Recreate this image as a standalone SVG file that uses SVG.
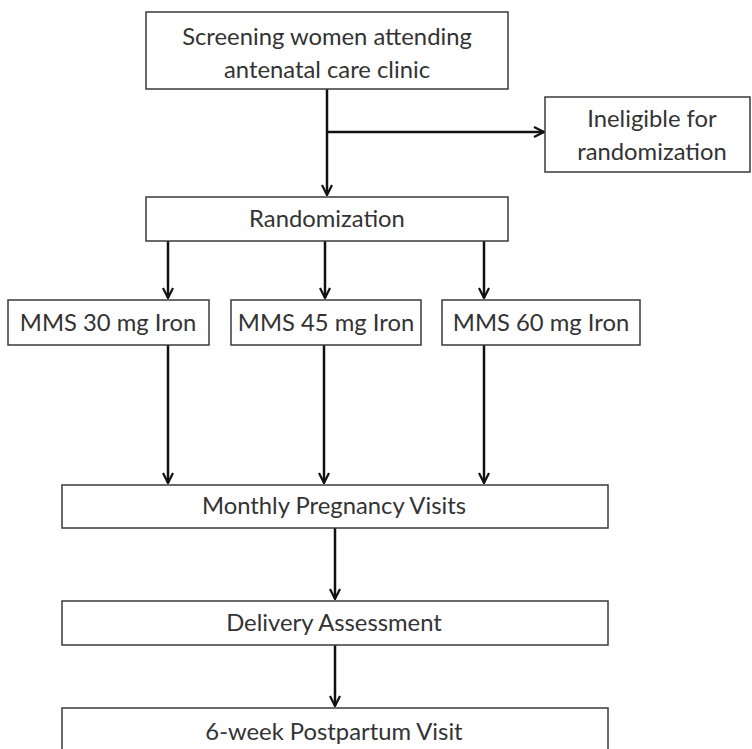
<svg xmlns="http://www.w3.org/2000/svg" width="752" height="749" viewBox="0 0 752 749">
<style>
.box{fill:#fff;stroke:#3a3a3a;stroke-width:1.5}
.t{font-family:Lato,"Liberation Sans",sans-serif;font-size:23.8px;fill:#333;text-anchor:middle}
.c{stroke:#111;stroke-width:2.5;fill:none}
</style>
<defs>
<marker id="ah" viewBox="0 0 12 12" refX="11" refY="6" markerWidth="12" markerHeight="12" markerUnits="userSpaceOnUse" orient="auto">
<path d="M1,1 L11,6 L1,11" fill="none" stroke="#111" stroke-width="2.2"/>
</marker>
</defs>
<rect width="752" height="749" fill="#fff"/>
<g id="connectors">
<line class="c" x1="327" y1="89" x2="327" y2="195" marker-end="url(#ah)"/>
<line class="c" x1="327" y1="132" x2="544" y2="132" marker-end="url(#ah)"/>
<line class="c" x1="168" y1="241" x2="168" y2="298" marker-end="url(#ah)"/>
<line class="c" x1="325" y1="241" x2="325" y2="298" marker-end="url(#ah)"/>
<line class="c" x1="484" y1="241" x2="484" y2="298" marker-end="url(#ah)"/>
<line class="c" x1="168" y1="345" x2="168" y2="483" marker-end="url(#ah)"/>
<line class="c" x1="324" y1="345" x2="324" y2="483" marker-end="url(#ah)"/>
<line class="c" x1="484" y1="345" x2="484" y2="483" marker-end="url(#ah)"/>
<line class="c" x1="335" y1="528" x2="335" y2="599" marker-end="url(#ah)"/>
<line class="c" x1="335" y1="645" x2="335" y2="706" marker-end="url(#ah)"/>
</g>
<g id="screening"><rect class="box" x="146" y="12" width="362" height="77"/><text class="t" x="327" y="45">Screening women attending</text><text class="t" x="327" y="78">antenatal care clinic</text></g>
<g id="ineligible"><rect class="box" x="545" y="97" width="205" height="75"/><text class="t" x="652" y="127">Ineligible for</text><text class="t" x="652" y="160">randomization</text></g>
<g id="randomization"><rect class="box" x="146" y="197" width="362" height="44"/><text class="t" x="327" y="227">Randomization</text></g>
<g id="mms30"><rect class="box" x="8" y="300" width="201" height="45"/><text class="t" x="108" y="331">MMS 30 mg Iron</text></g>
<g id="mms45"><rect class="box" x="231" y="300" width="190" height="45"/><text class="t" x="326" y="331">MMS 45 mg Iron</text></g>
<g id="mms60"><rect class="box" x="442" y="300" width="198" height="45"/><text class="t" x="541" y="331">MMS 60 mg Iron</text></g>
<g id="monthly"><rect class="box" x="62" y="485" width="546" height="43"/><text class="t" x="334" y="514">Monthly Pregnancy Visits</text></g>
<g id="delivery"><rect class="box" x="62" y="601" width="546" height="44"/><text class="t" x="334" y="631">Delivery Assessment</text></g>
<g id="postpartum"><rect class="box" x="62" y="708" width="546" height="50"/><text class="t" x="334" y="740">6-week Postpartum Visit</text></g>
</svg>
